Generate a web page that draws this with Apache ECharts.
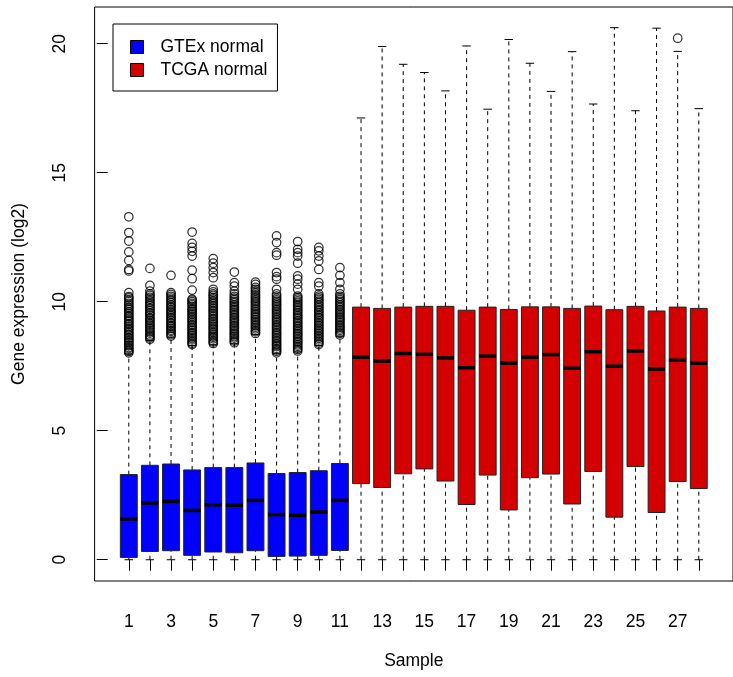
<!DOCTYPE html>
<html>
<head>
<meta charset="utf-8">
<style>
  html, body { margin: 0; padding: 0; background: #fff; }
  #chart { width: 733px; height: 677px; }
</style>
<script src="https://cdn.jsdelivr.net/npm/echarts@6/dist/echarts.min.js"></script>
</head>
<body>
<div id="chart"></div>
<script>
// Sample numbers of each group
const gtexSamples = [1, 2, 3, 4, 5, 6, 7, 8, 9, 10, 11];
const tcgaSamples = [12, 13, 14, 15, 16, 17, 18, 19, 20, 21, 22, 23, 24, 25, 26, 27, 28];

// Five-number summaries, GTEx normal
const gtexLow    = [0, 0, 0, 0, 0, 0, 0, 0, 0, 0, 0];
const gtexQ1     = [0.09, 0.32, 0.35, 0.17, 0.30, 0.27, 0.35, 0.13, 0.14, 0.17, 0.36];
const gtexMedian = [1.58, 2.20, 2.26, 1.91, 2.13, 2.11, 2.30, 1.75, 1.72, 1.85, 2.30];
const gtexQ3     = [3.30, 3.66, 3.71, 3.48, 3.57, 3.57, 3.75, 3.34, 3.38, 3.45, 3.73];
const gtexHigh   = [7.98, 8.50, 8.62, 8.30, 8.33, 8.37, 8.72, 7.98, 8.05, 8.30, 8.66];

// Five-number summaries, TCGA normal
const tcgaLow    = [0, 0, 0, 0, 0, 0, 0, 0, 0, 0, 0, 0, 0, 0, 0, 0, 0];
const tcgaQ1     = [2.95, 2.80, 3.33, 3.52, 3.05, 2.14, 3.28, 1.93, 3.18, 3.32, 2.16, 3.42, 1.65, 3.61, 1.83, 3.03, 2.76];
const tcgaMedian = [7.85, 7.70, 7.99, 7.96, 7.82, 7.44, 7.89, 7.62, 7.85, 7.95, 7.42, 8.06, 7.50, 8.09, 7.39, 7.73, 7.62];
const tcgaQ3     = [9.79, 9.74, 9.79, 9.82, 9.82, 9.67, 9.79, 9.70, 9.80, 9.80, 9.74, 9.83, 9.69, 9.82, 9.64, 9.79, 9.74];
const tcgaHigh   = [17.12, 19.89, 19.20, 18.88, 18.17, 19.91, 17.46, 20.16, 19.24, 18.15, 19.69, 17.66, 20.62, 17.40, 20.60, 19.70, 17.48];

// Outlying values per GTEx sample
const gtexOutliers = [
  [8.02, 8.07, 8.11, 8.18, 8.22, 8.29, 8.33, 8.41, 8.46, 8.52, 8.58, 8.61, 8.69, 8.74, 8.81, 8.87, 8.93, 8.98, 9.05, 9.12, 9.16, 9.24, 9.29, 9.36, 9.43, 9.47, 9.55, 9.61, 9.68, 9.74, 9.79, 9.86, 9.93, 10.01, 10.08, 10.15, 10.2, 10.35, 11.19, 11.25, 11.6, 11.93, 12.35, 12.68, 13.29],
  [8.54, 8.6, 8.66, 8.71, 8.78, 8.83, 8.9, 8.96, 9.01, 9.09, 9.14, 9.2, 9.27, 9.33, 9.38, 9.46, 9.52, 9.57, 9.64, 9.71, 9.76, 9.84, 9.9, 9.97, 10.04, 10.1, 10.17, 10.24, 10.3, 10.41, 10.63, 11.29],
  [8.67, 8.72, 8.79, 8.85, 8.9, 8.97, 9.03, 9.08, 9.15, 9.2, 9.27, 9.34, 9.39, 9.45, 9.52, 9.58, 9.63, 9.7, 9.77, 9.82, 9.88, 9.95, 10.02, 10.08, 10.14, 10.21, 10.28, 10.35, 11.02],
  [8.34, 8.39, 8.45, 8.52, 8.57, 8.63, 8.7, 8.76, 8.81, 8.88, 8.94, 9.0, 9.07, 9.12, 9.19, 9.26, 9.31, 9.37, 9.44, 9.5, 9.56, 9.63, 9.69, 9.74, 9.81, 9.88, 9.93, 10.0, 10.06, 10.1, 10.45, 10.89, 11.22, 11.77, 11.95, 12.1, 12.26, 12.7],
  [8.38, 8.44, 8.49, 8.56, 8.62, 8.67, 8.74, 8.8, 8.86, 8.93, 8.98, 9.05, 9.11, 9.17, 9.23, 9.3, 9.35, 9.42, 9.48, 9.54, 9.61, 9.66, 9.73, 9.79, 9.85, 9.92, 9.98, 10.04, 10.11, 10.17, 10.24, 10.3, 10.38, 10.48, 10.93, 11.13, 11.32, 11.49, 11.67],
  [8.41, 8.47, 8.52, 8.59, 8.65, 8.71, 8.77, 8.83, 8.89, 8.95, 9.02, 9.07, 9.14, 9.2, 9.26, 9.32, 9.38, 9.45, 9.51, 9.57, 9.64, 9.7, 9.76, 9.82, 9.88, 9.95, 10.01, 10.08, 10.14, 10.21, 10.3, 10.41, 10.6, 10.74, 11.15],
  [8.77, 8.83, 8.88, 8.95, 9.01, 9.07, 9.13, 9.19, 9.25, 9.31, 9.38, 9.44, 9.5, 9.56, 9.62, 9.69, 9.75, 9.81, 9.87, 9.94, 10.0, 10.06, 10.13, 10.19, 10.26, 10.33, 10.4, 10.48, 10.55, 10.67, 10.76],
  [8.02, 8.08, 8.14, 8.19, 8.26, 8.32, 8.37, 8.44, 8.5, 8.56, 8.62, 8.69, 8.75, 8.81, 8.87, 8.94, 9.0, 9.06, 9.12, 9.19, 9.25, 9.31, 9.37, 9.44, 9.5, 9.56, 9.63, 9.69, 9.75, 9.82, 9.88, 9.94, 10.01, 10.07, 10.14, 10.22, 10.3, 10.48, 10.87, 10.97, 11.13, 11.8, 11.9, 12.29, 12.55],
  [8.09, 8.15, 8.21, 8.27, 8.33, 8.4, 8.46, 8.52, 8.58, 8.65, 8.71, 8.77, 8.83, 8.9, 8.96, 9.02, 9.08, 9.15, 9.21, 9.27, 9.34, 9.4, 9.46, 9.52, 9.59, 9.65, 9.71, 9.78, 9.84, 9.9, 9.97, 10.03, 10.1, 10.16, 10.22, 10.48, 10.68, 10.87, 11.0, 11.49, 11.77, 11.9, 12.03, 12.33],
  [8.34, 8.4, 8.46, 8.52, 8.58, 8.64, 8.7, 8.77, 8.83, 8.89, 8.95, 9.01, 9.08, 9.14, 9.2, 9.26, 9.33, 9.39, 9.45, 9.51, 9.58, 9.64, 9.7, 9.77, 9.83, 9.89, 9.96, 10.02, 10.09, 10.15, 10.22, 10.3, 10.6, 10.74, 11.25, 11.58, 11.77, 11.97, 12.1],
  [8.71, 8.77, 8.83, 8.89, 8.95, 9.01, 9.07, 9.13, 9.2, 9.26, 9.32, 9.38, 9.44, 9.51, 9.57, 9.63, 9.69, 9.76, 9.82, 9.88, 9.95, 10.01, 10.08, 10.14, 10.21, 10.3, 10.48, 10.74, 11.02, 11.32]
];

// Outlying values per TCGA sample: [sample, value]
const tcgaOutliers = [[27, 20.21]];

// Axis ticks and labels
const yTicks = [0, 5, 10, 15, 20];
const xTicks = [1, 2, 3, 4, 5, 6, 7, 8, 9, 10, 11, 12, 13, 14, 15, 16, 17, 18, 19, 20, 21, 22, 23, 24, 25, 26, 27, 28];
const xLabels = [1, 3, 5, 7, 9, 11, 13, 15, 17, 19, 21, 23, 25, 27];

const FONT = '"Liberation Sans", Arial, Helvetica, sans-serif';
const FS = 17.5;

function boxRows(xs, lo, q1, md, q3, hi) {
  return xs.map((x, i) => [x, lo[i], q1[i], md[i], q3[i], hi[i]]);
}

// R-style box: dashed whiskers, solid staples, filled box, thick median
function renderBox(params, api) {
  const x = api.value(0);
  const lo = api.coord([x, api.value(1)]);
  const q1 = api.coord([x, api.value(2)]);
  const md = api.coord([x, api.value(3)]);
  const q3 = api.coord([x, api.value(4)]);
  const hi = api.coord([x, api.value(5)]);
  const halfBox = api.size([0.8, 0])[0] / 2;
  const halfCap = api.size([0.4, 0])[0] / 2;
  const cx = lo[0];
  const fill = api.visual('color');
  const dash = { stroke: '#000', lineWidth: 1, lineDash: [4, 4] };
  const solid = { stroke: '#000', lineWidth: 1 };
  return {
    type: 'group',
    children: [
      { type: 'line', shape: { x1: cx, y1: lo[1], x2: cx, y2: q1[1] }, style: dash },
      { type: 'line', shape: { x1: cx, y1: q3[1], x2: cx, y2: hi[1] }, style: dash },
      { type: 'line', shape: { x1: cx - halfCap, y1: lo[1], x2: cx + halfCap, y2: lo[1] }, style: solid },
      { type: 'line', shape: { x1: cx - halfCap, y1: hi[1], x2: cx + halfCap, y2: hi[1] }, style: solid },
      { type: 'rect', shape: { x: cx - halfBox, y: q3[1], width: halfBox * 2, height: q1[1] - q3[1] },
        style: { fill: fill, stroke: '#222', lineWidth: 1 } },
      { type: 'line', shape: { x1: cx - halfBox, y1: md[1], x2: cx + halfBox, y2: md[1] },
        style: { stroke: '#000', lineWidth: 3.5 } }
    ]
  };
}

const gtexPoints = [];
gtexSamples.forEach((s, i) => gtexOutliers[i].forEach(v => gtexPoints.push([s, v])));

const chart = echarts.init(document.getElementById('chart'), null, { renderer: 'canvas' });

const outlierStyle = {
  type: 'scatter',
  symbol: 'circle',
  symbolSize: 8.5,
  silent: true,
  animation: false,
  itemStyle: { color: 'rgba(0,0,0,0)', borderColor: '#000', borderWidth: 1.25 },
  z: 3
};

chart.setOption({
  backgroundColor: '#fff',
  animation: false,
  grid: {
    left: 94.6, right: -3, top: 7, bottom: 96,
    show: true, borderColor: '#000', borderWidth: 1, backgroundColor: 'transparent'
  },
  legend: {
    left: 113, top: 24,
    orient: 'vertical',
    data: ['GTEx normal', 'TCGA normal'],
    icon: 'rect',
    itemWidth: 13, itemHeight: 13, itemGap: 5,
    padding: [14, 10, 12, 17],
    borderColor: '#000', borderWidth: 1,
    itemStyle: { borderColor: '#000', borderWidth: 1 },
    textStyle: { fontFamily: FONT, fontSize: FS, color: '#000', lineHeight: 18, padding: [0, 0, 0, 12] },
    selectedMode: false
  },
  xAxis: {
    type: 'value',
    min: -0.62, max: 29.62,
    name: 'Sample',
    nameLocation: 'middle',
    nameGap: 71,
    nameTextStyle: { fontFamily: FONT, fontSize: FS, color: '#000' },
    axisLine: { show: false },
    axisTick: { show: true, customValues: xTicks, length: 11, lineStyle: { color: '#000', width: 1 } },
    axisLabel: { customValues: xLabels, margin: 32, fontFamily: FONT, fontSize: FS, color: '#000' },
    splitLine: { show: false }
  },
  yAxis: {
    type: 'value',
    min: -0.824, max: 21.42,
    name: 'Gene expression (log2)',
    nameLocation: 'middle',
    nameRotate: 90,
    nameGap: 66,
    nameTextStyle: { fontFamily: FONT, fontSize: FS, color: '#000' },
    axisLine: { show: false },
    axisTick: { show: true, customValues: yTicks, length: 11, lineStyle: { color: '#000', width: 1 } },
    axisLabel: { customValues: yTicks, rotate: 90, margin: 25, fontFamily: FONT, fontSize: FS, color: '#000' },
    splitLine: { show: false }
  },
  series: [
    {
      name: 'GTEx normal',
      type: 'custom',
      renderItem: renderBox,
      itemStyle: { color: '#0000ff', borderColor: '#000', borderWidth: 1 },
      encode: { x: 0, y: [1, 2, 3, 4, 5] },
      data: boxRows(gtexSamples, gtexLow, gtexQ1, gtexMedian, gtexQ3, gtexHigh),
      z: 2
    },
    {
      name: 'TCGA normal',
      type: 'custom',
      renderItem: renderBox,
      itemStyle: { color: '#d40000', borderColor: '#000', borderWidth: 1 },
      encode: { x: 0, y: [1, 2, 3, 4, 5] },
      data: boxRows(tcgaSamples, tcgaLow, tcgaQ1, tcgaMedian, tcgaQ3, tcgaHigh),
      z: 2
    },
    Object.assign({ name: 'gtex outliers', data: gtexPoints }, outlierStyle),
    Object.assign({ name: 'tcga outliers', data: tcgaOutliers }, outlierStyle)
  ]
});
</script>
</body>
</html>
